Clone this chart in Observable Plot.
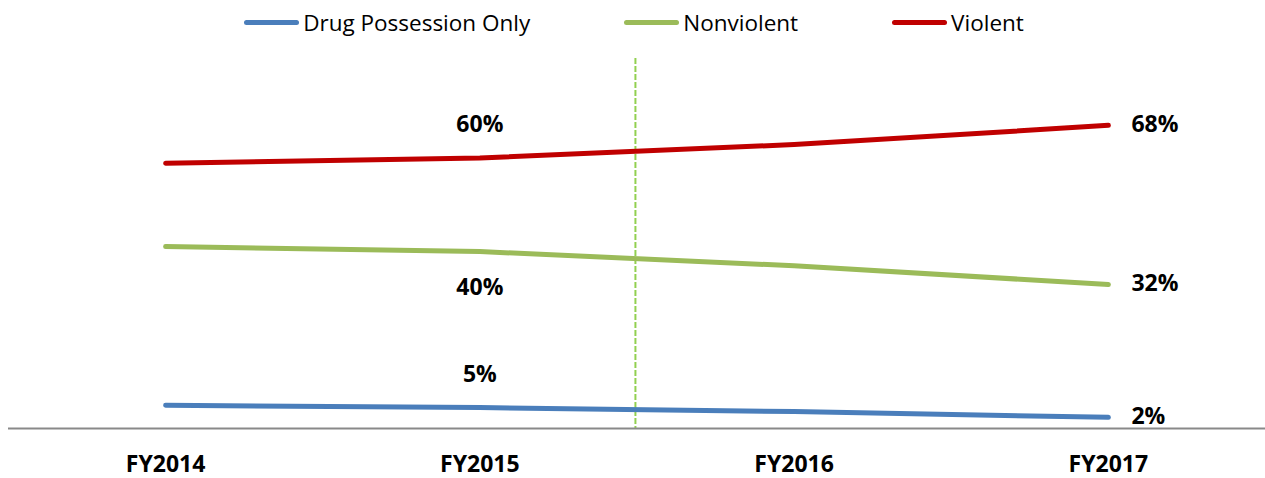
<!DOCTYPE html>
<html>
<head>
<meta charset="utf-8">
<script src="https://cdn.jsdelivr.net/npm/d3@7"></script>
<script src="https://cdn.jsdelivr.net/npm/@observablehq/plot@0.6"></script>
<style>
  html, body { margin: 0; padding: 0; background: #fff; }
  body { width: 1265px; height: 478px; overflow: hidden; font-family: "Open Sans", sans-serif; }
  #legend { height: 45px; display: flex; justify-content: center; align-items: center; gap: 94px; padding-left: 3px; box-sizing: border-box; }
  .item { display: flex; align-items: center; font-size: 22.5px; color: #000; }
  .sw { width: 55px; height: 5px; border-radius: 3px; margin-right: 4px; }
  #chart svg { display: block; }
</style>
</head>
<body>
<div id="legend"></div>
<div id="chart"></div>
<script>
// ---- data ----
const years = ["FY2014", "FY2015", "FY2016", "FY2017"];
const seriesNames = ["Drug Possession Only", "Nonviolent", "Violent"];
const drugPossession = [5.2, 4.7, 3.8, 2.5];
const nonviolent = [40.8, 39.7, 36.5, 32.3];
const violent = [59.5, 60.7, 63.7, 68.0];
const labelsFY2015 = ["5%", "40%", "60%"];
const labelsFY2017 = ["2%", "32%", "68%"];
const dividerBetween = 1.495; // between FY2015 and FY2016

const colors = ["#4a7ebb", "#9bbb59", "#c00000"];
const seriesValues = [drugPossession, nonviolent, violent];

const rows = [];
seriesNames.forEach((s, k) => {
  years.forEach((yr, i) => rows.push({series: s, i, year: yr, value: seriesValues[k][i]}));
});

// legend
const legend = document.getElementById("legend");
seriesNames.forEach((s, k) => {
  const it = document.createElement("div");
  it.className = "item";
  it.innerHTML = `<span class="sw" style="background:${colors[k]}"></span><span>${s}</span>`;
  legend.appendChild(it);
});

const mid = seriesNames.map((s, k) => ({series: s, i: 1, value: seriesValues[k][1], text: labelsFY2015[k]}));
const end = seriesNames.map((s, k) => ({series: s, i: 3, value: seriesValues[k][3], text: labelsFY2017[k]}));
const labelFont = {fontSize: 23, fontWeight: "bold", fill: "#000", fontFamily: "Open Sans"};

const chart = Plot.plot({
  width: 1265,
  height: 433,
  marginLeft: 8,
  marginRight: 0,
  marginTop: 13,
  marginBottom: 50,
  style: {fontFamily: "Open Sans", background: "#fff"},
  x: {type: "linear", domain: [-0.5, 3.5]},
  y: {domain: [0, 83]},
  color: {domain: seriesNames, range: colors},
  marks: [
    Plot.ruleX([dividerBetween], {stroke: "#92d050", strokeWidth: 2, strokeDasharray: "6,2"}),
    Plot.ruleY([0], {stroke: "#898989", strokeWidth: 2}),
    Plot.line(rows, {x: "i", y: "value", z: "series", stroke: "series", strokeWidth: 5, strokeLinecap: "round", strokeLinejoin: "round"}),
    Plot.text(mid.filter(d => d.series !== "Nonviolent"), {x: "i", y: "value", text: "text", dy: -33, ...labelFont}),
    Plot.text(mid.filter(d => d.series === "Nonviolent"), {x: "i", y: "value", text: "text", dy: 36, ...labelFont}),
    Plot.text(end, {x: "i", y: "value", text: "text", dx: 23, dy: -1, textAnchor: "start", ...labelFont}),
    Plot.axisX({ticks: [0, 1, 2, 3], tickFormat: i => years[i], tickSize: 0, tickPadding: 27, fontSize: 23, fontWeight: "bold", fill: "#000", label: null}),
    Plot.axisY({ticks: [], label: null, tickSize: 0})
  ]
});
document.getElementById("chart").appendChild(chart);
</script>
</body>
</html>
